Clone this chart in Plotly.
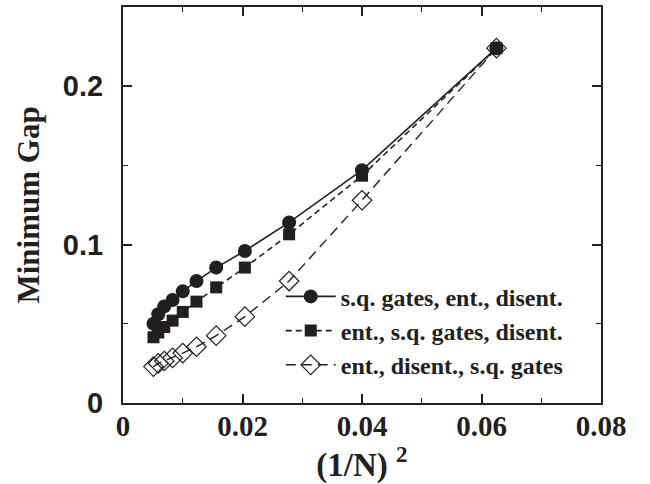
import plotly.graph_objects as go

# (1/N)^2 values
x_vals = [0.0625, 0.0400, 0.0278, 0.0204, 0.0156, 0.0123, 0.0100, 0.0083, 0.0069, 0.0059, 0.0051]
gap_sq_ent_dis = [0.224, 0.147, 0.114, 0.096, 0.0855, 0.077, 0.0705, 0.065, 0.061, 0.056, 0.050]
gap_ent_sq_dis = [0.224, 0.1435, 0.1065, 0.0855, 0.073, 0.064, 0.0575, 0.052, 0.048, 0.0445, 0.0415]
gap_ent_dis_sq = [0.224, 0.128, 0.077, 0.0545, 0.0425, 0.0355, 0.0315, 0.0285, 0.0265, 0.025, 0.023]

names = ["s.q. gates, ent., disent.", "ent., s.q. gates, disent.", "ent., disent., s.q. gates"]

serif = "Liberation Serif"
sans = "Liberation Sans"
ink = "#231f20"

fig = go.Figure()
fig.add_trace(go.Scatter(
    x=x_vals, y=gap_sq_ent_dis, name=names[0], mode="lines+markers",
    line=dict(color=ink, width=1.6),
    marker=dict(symbol="circle", size=14, color=ink),
))
fig.add_trace(go.Scatter(
    x=x_vals, y=gap_ent_sq_dis, name=names[1], mode="lines+markers",
    line=dict(color=ink, width=1.6, dash="6px,4px"),
    marker=dict(symbol="square", size=12, color=ink),
))
fig.add_trace(go.Scatter(
    x=x_vals, y=gap_ent_dis_sq, name=names[2], mode="lines+markers",
    line=dict(color=ink, width=1.4, dash="10px,6px"),
    marker=dict(symbol="diamond-open", size=15, color=ink, line=dict(width=1.2)),
))

fig.update_layout(
    width=650, height=484,
    margin=dict(l=123, r=49, t=5, b=81),
    paper_bgcolor="white", plot_bgcolor="white",
    showlegend=True,
    legend=dict(
        x=0.33, y=0.325, xanchor="left", yanchor="top",
        bgcolor="rgba(0,0,0,0)", borderwidth=0,
        font=dict(family=serif, size=24, color=ink, weight="bold"),
        itemwidth=50, tracegroupgap=0,
    ),
    xaxis=dict(
        range=[0, 0.08],
        tickvals=[0, 0.02, 0.04, 0.06, 0.08],
        ticktext=["0", "0.02", "0.04", "0.06", "0.08"],
        showgrid=False, zeroline=False,
        showline=True, linecolor=ink, linewidth=2, mirror="allticks",
        ticks="inside", ticklen=9, tickwidth=1.5, tickcolor=ink,
        minor=dict(tickvals=[0.01, 0.03, 0.05, 0.07], ticks="inside", ticklen=5, tickwidth=1.2, tickcolor=ink),
        tickfont=dict(family=serif, size=29, color=ink, weight="bold"),
        ticklabelstandoff=-4,
        title=dict(text="(1/N) <sup>2</sup>", font=dict(family=serif, size=33, color=ink, weight="bold"), standoff=0),
    ),
    yaxis=dict(
        range=[0, 0.25],
        tickvals=[0, 0.1, 0.2],
        ticktext=["0", "0.1", "0.2"],
        showgrid=False, zeroline=False,
        showline=True, linecolor=ink, linewidth=2, mirror="allticks",
        ticks="inside", ticklen=9, tickwidth=1.5, tickcolor=ink,
        minor=dict(tickvals=[0.05, 0.15], ticks="inside", ticklen=5, tickwidth=1.2, tickcolor=ink),
        tickfont=dict(family=sans, size=29, color=ink, weight="bold"),
        ticklabelstandoff=12,
        title=dict(text="Minimum Gap", font=dict(family=serif, size=31, color=ink, weight="bold"), standoff=14),
    ),
)

fig.write_html("out.html", config={"displayModeBar": False},
               post_script="document.body.style.margin='0';")
